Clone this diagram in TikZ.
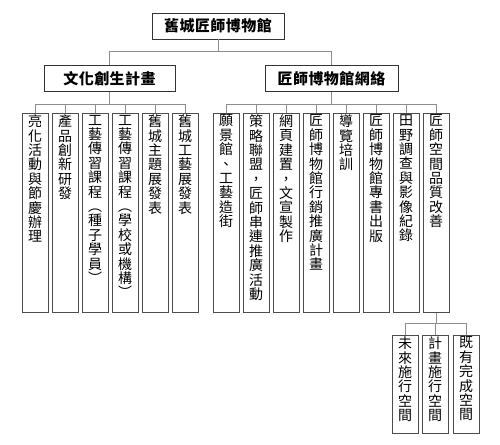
\documentclass[tikz,border=0pt]{standalone}
\usepackage{fontspec}
\newfontfamily\cjk{Noto Sans CJK TC}
\newfontfamily\cjkh[LetterSpace=3]{Noto Sans CJK TC}
\makeatletter
\newcommand\vstack[1]{\@tfor\vc:=#1\do{\vc\par}}
\makeatother
\newcommand\vtx[2]{\parbox[t][#1][t]{26pt}{\centering\vspace*{1.5pt}\vstack{#2}}}
\tikzset{
  hbox/.style={draw=black!80, line width=0.8pt, inner sep=0pt, minimum height=26pt,
    font=\cjkh\bfseries\fontsize{15}{18}\selectfont},
  leaf/.style={draw=black!70, line width=0.7pt, inner sep=0pt, anchor=north,
    font=\cjk\fontsize{14}{14.4}\selectfont},
  conn/.style={draw=black!45, line width=0.7pt}
}
\begin{document}
\begin{tikzpicture}[x=1pt,y=-1pt]
\useasboundingbox (0,0) rectangle (500,444);
% root and level 2
\node[hbox, minimum width=132pt] (root) at (218,26) {舊城匠師博物館};
\node[hbox, minimum width=131pt] (la) at (109.5,78.5) {文化創生計畫};
\node[hbox, minimum width=133pt] (lb) at (331.5,78.5) {匠師博物館網絡};
% left leaves
\node[leaf] (a1) at (35,113) {\vtx{199pt}{亮化活動與節慶辦理}};
\node[leaf] (a2) at (65,113) {\vtx{199pt}{產品創新研發}};
\node[leaf] (a3) at (95,113) {\vtx{199pt}{工藝傳習課程︵種子學員︶}};
\node[leaf] (a4) at (125,113) {\vtx{199pt}{工藝傳習課程︵學校或機構︶}};
\node[leaf] (a5) at (155,113) {\vtx{199pt}{舊城主題展發表}};
\node[leaf] (a6) at (185,113) {\vtx{199pt}{舊城工藝展發表}};
% right leaves
\node[leaf] (b1) at (226,113) {\vtx{199pt}{願景館、工藝造街}};
\node[leaf] (b2) at (256,113) {\vtx{199pt}{策略聯盟，匠師串連推廣活動}};
\node[leaf] (b3) at (286,113) {\vtx{199pt}{網頁建置，文宣製作}};
\node[leaf] (b4) at (316,113) {\vtx{199pt}{匠師博物館行銷推廣計畫}};
\node[leaf] (b5) at (346,113) {\vtx{199pt}{導覽培訓}};
\node[leaf] (b6) at (376,113) {\vtx{199pt}{匠師博物館專書出版}};
\node[leaf] (b7) at (406,113) {\vtx{199pt}{田野調查與影像紀錄}};
\node[leaf] (b8) at (436,113) {\vtx{199pt}{匠師空間品質改善}};
% bottom leaves
\node[leaf] (c1) at (405,335) {\vtx{98pt}{未來施行空間}};
\node[leaf] (c2) at (435,335) {\vtx{98pt}{計畫施行空間}};
\node[leaf] (c3) at (466,335) {\vtx{98pt}{既有完成空間}};
% connectors
\draw[conn] (root.south) -- ++(0,12) coordinate (j0);
\draw[conn] (la.north) |- (j0) -| (lb.north);
\draw[conn] (la.south) -- ++(0,12.5) coordinate (j1);
\draw[conn] (a1.north) |- (j1) -| (a6.north);
\foreach \n in {a2,a3,a4,a5} \draw[conn] (\n.north) -- (\n.north |- j1);
\draw[conn] (lb.south) -- ++(0,12.5) coordinate (j2);
\draw[conn] (b1.north) |- (j2) -| (b8.north);
\foreach \n in {b2,b3,b4,b5,b6,b7} \draw[conn] (\n.north) -- (\n.north |- j2);
\draw[conn] (b8.south) -- ++(0,11) coordinate (j3);
\draw[conn] (c1.north) |- (j3) -| (c3.north);
\draw[conn] (c2.north) -- (c2.north |- j3);
\end{tikzpicture}
\end{document}
